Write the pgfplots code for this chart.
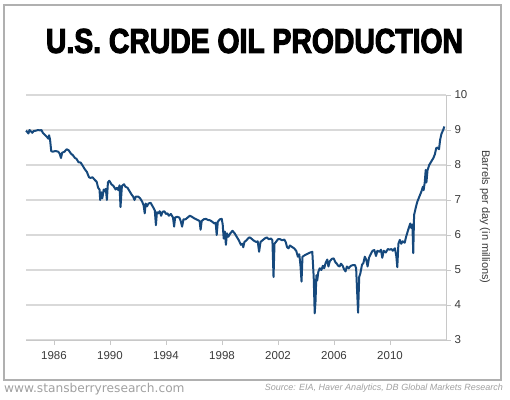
\documentclass[border=0pt]{standalone}
\usepackage{pgfplots}
\pgfplotsset{compat=1.18}
\usepackage{fontspec}
\setmainfont{Liberation Sans}
\newfontfamily\titlefont{Liberation Sans}[BoldFeatures={FakeBold=3.5}]
\newfontfamily\webfont{DejaVu Sans}
\definecolor{oil}{HTML}{16497D}
\definecolor{gridc}{HTML}{D9D9D9}
\definecolor{axc}{HTML}{C8C8C8}
\definecolor{tickc}{HTML}{3A3A3A}
\definecolor{framec}{HTML}{B0B0B0}
\definecolor{footc}{HTML}{A0A0A0}
\begin{document}
\begin{tikzpicture}
\path[use as bounding box] (0,0) rectangle (510pt,399pt);
\draw[framec, line width=1.5pt] (4pt,19pt) rectangle (501pt,394pt);
\node at (254.5pt,358pt) {\resizebox{417pt}{24pt}{\titlefont\bfseries U.S. CRUDE OIL PRODUCTION}};
\begin{axis}[
  at={(26pt,59pt)}, anchor=south west,
  scale only axis, width=420pt, height=245pt,
  xmin=1984, xmax=2014, ymin=3, ymax=10,
  axis x line=bottom, axis y line=right,
  axis line style={-, draw=axc, line width=0.8pt},
  xtick={1986,1990,1994,1998,2002,2006,2010},
  ytick={3,4,5,6,7,8,9,10},
  /pgf/number format/1000 sep={},
  /pgf/number format/assume math mode=true,
  tick align=outside, major tick length=5pt,
  tick style={draw=axc, line width=0.8pt},
  ticklabel style={font=\fontsize{11.5}{13}\selectfont, text=tickc},
  xticklabel style={yshift=-3pt},
  yticklabel style={xshift=0pt},
  ymajorgrids, grid style={draw=gridc, line width=1.3pt},
  clip=false,
]
\addplot[oil, line width=2pt, line join=round] coordinates {
(1984.00,8.98) (1984.08,8.95) (1984.17,8.90) (1984.25,9.00) (1984.35,8.96) (1984.45,8.92) (1984.55,8.97) (1984.70,8.98) (1984.85,9.00) (1985.00,8.99) (1985.10,9.00) (1985.20,8.92) (1985.35,8.86) (1985.50,8.80) (1985.60,8.75) (1985.65,8.85) (1985.72,8.72) (1985.80,8.40) (1985.90,8.38) (1986.10,8.40) (1986.30,8.38) (1986.40,8.33) (1986.50,8.20) (1986.58,8.35) (1986.75,8.38) (1986.90,8.45) (1987.05,8.42) (1987.20,8.33) (1987.35,8.28) (1987.50,8.20) (1987.60,8.18) (1987.75,8.08) (1987.90,8.07) (1988.05,7.98) (1988.20,7.88) (1988.35,7.80) (1988.50,7.65) (1988.60,7.63) (1988.75,7.65) (1988.90,7.58) (1989.05,7.52) (1989.15,7.35) (1989.25,7.30) (1989.30,7.00) (1989.38,7.22) (1989.45,7.05) (1989.55,7.30) (1989.62,7.25) (1989.70,7.32) (1989.78,7.00) (1989.85,7.50) (1989.95,7.55) (1990.10,7.45) (1990.25,7.40) (1990.40,7.30) (1990.50,7.35) (1990.60,7.28) (1990.68,7.42) (1990.75,6.80) (1990.85,7.40) (1991.00,7.45) (1991.10,7.38) (1991.25,7.35) (1991.40,7.25) (1991.55,7.15) (1991.65,7.10) (1991.75,7.00) (1991.85,7.10) (1992.00,7.10) (1992.15,7.05) (1992.30,6.95) (1992.40,6.85) (1992.48,6.62) (1992.55,6.90) (1992.65,6.82) (1992.75,6.90) (1992.90,6.92) (1993.00,6.85) (1993.10,6.78) (1993.20,6.70) (1993.28,6.28) (1993.35,6.65) (1993.45,6.62) (1993.55,6.68) (1993.65,6.55) (1993.75,6.66) (1993.88,6.68) (1994.00,6.60) (1994.10,6.62) (1994.20,6.55) (1994.35,6.60) (1994.50,6.50) (1994.58,6.24) (1994.65,6.50) (1994.80,6.52) (1994.95,6.50) (1995.05,6.40) (1995.15,6.24) (1995.25,6.45) (1995.40,6.45) (1995.55,6.50) (1995.70,6.55) (1995.85,6.52) (1996.00,6.48) (1996.15,6.45) (1996.30,6.42) (1996.40,6.40) (1996.47,6.15) (1996.55,6.40) (1996.70,6.45) (1996.85,6.46) (1997.00,6.43) (1997.15,6.42) (1997.30,6.38) (1997.45,6.33) (1997.55,6.35) (1997.62,6.00) (1997.70,6.38) (1997.85,6.45) (1997.98,6.46) (1998.05,6.30) (1998.12,5.90) (1998.20,6.10) (1998.28,5.72) (1998.35,6.05) (1998.45,5.95) (1998.60,6.05) (1998.75,6.12) (1998.90,6.05) (1999.05,5.95) (1999.20,5.85) (1999.35,5.72) (1999.45,5.75) (1999.52,5.65) (1999.60,5.80) (1999.75,5.85) (1999.90,5.92) (2000.00,5.93) (2000.15,5.88) (2000.30,5.83) (2000.45,5.80) (2000.55,5.82) (2000.65,5.52) (2000.75,5.80) (2000.90,5.85) (2001.05,5.90) (2001.20,5.93) (2001.35,5.88) (2001.50,5.90) (2001.60,5.85) (2001.68,4.80) (2001.75,5.75) (2001.85,5.80) (2002.00,5.88) (2002.15,5.88) (2002.30,5.85) (2002.45,5.87) (2002.55,5.80) (2002.65,5.65) (2002.75,5.62) (2002.85,5.70) (2003.00,5.66) (2003.15,5.62) (2003.30,5.55) (2003.42,5.38) (2003.52,5.45) (2003.60,5.15) (2003.68,4.67) (2003.75,5.38) (2003.90,5.42) (2004.05,5.45) (2004.20,5.48) (2004.30,5.50) (2004.45,5.52) (2004.55,4.80) (2004.62,3.76) (2004.68,4.10) (2004.74,4.85) (2004.80,4.70) (2004.88,4.95) (2004.98,5.05) (2005.10,5.00) (2005.20,5.12) (2005.30,5.05) (2005.40,5.20) (2005.52,5.30) (2005.60,5.10) (2005.70,5.25) (2005.85,5.32) (2005.98,5.33) (2006.10,5.22) (2006.20,5.18) (2006.30,5.12) (2006.40,5.10) (2006.50,5.18) (2006.62,5.12) (2006.72,5.02) (2006.82,4.96) (2006.92,5.10) (2007.05,5.05) (2007.20,5.12) (2007.35,5.14) (2007.50,5.14) (2007.58,5.05) (2007.65,4.40) (2007.72,3.78) (2007.80,4.80) (2007.88,4.90) (2008.00,5.15) (2008.10,5.20) (2008.20,5.38) (2008.30,5.30) (2008.40,5.10) (2008.50,5.35) (2008.62,5.45) (2008.75,5.55) (2008.88,5.57) (2009.00,5.40) (2009.10,5.55) (2009.25,5.52) (2009.35,5.58) (2009.45,5.35) (2009.55,5.55) (2009.70,5.50) (2009.85,5.60) (2009.98,5.58) (2010.10,5.60) (2010.20,5.55) (2010.35,5.62) (2010.45,5.40) (2010.52,5.08) (2010.60,5.75) (2010.70,5.86) (2010.80,5.75) (2010.90,5.82) (2011.05,5.78) (2011.15,5.95) (2011.30,6.15) (2011.45,6.33) (2011.52,6.20) (2011.60,6.30) (2011.66,5.48) (2011.72,6.57) (2011.85,6.80) (2011.95,6.95) (2012.10,7.10) (2012.25,7.25) (2012.35,7.38) (2012.40,7.28) (2012.48,7.50) (2012.55,7.86) (2012.60,7.50) (2012.68,7.85) (2012.80,8.00) (2012.95,8.10) (2013.10,8.20) (2013.20,8.30) (2013.30,8.48) (2013.40,8.50) (2013.50,8.45) (2013.58,8.72) (2013.68,8.90) (2013.80,9.00) (2013.88,9.10)
};
\end{axis}
\node[rotate=-90, text=tickc, font=\fontsize{11}{13}\selectfont] at (485pt,182pt) {Barrels per day (in millions)};
\node[anchor=west, text=footc, inner sep=0pt, font=\webfont\fontsize{12.2}{14}\selectfont] at (4pt,9.5pt) {www.stansberryresearch.com};
\node[anchor=east, text=footc, inner sep=0pt, font=\itshape\fontsize{9}{11}\selectfont] at (503pt,11pt) {Source: EIA, Haver Analytics, DB Global Markets Research};
\end{tikzpicture}
\end{document}
